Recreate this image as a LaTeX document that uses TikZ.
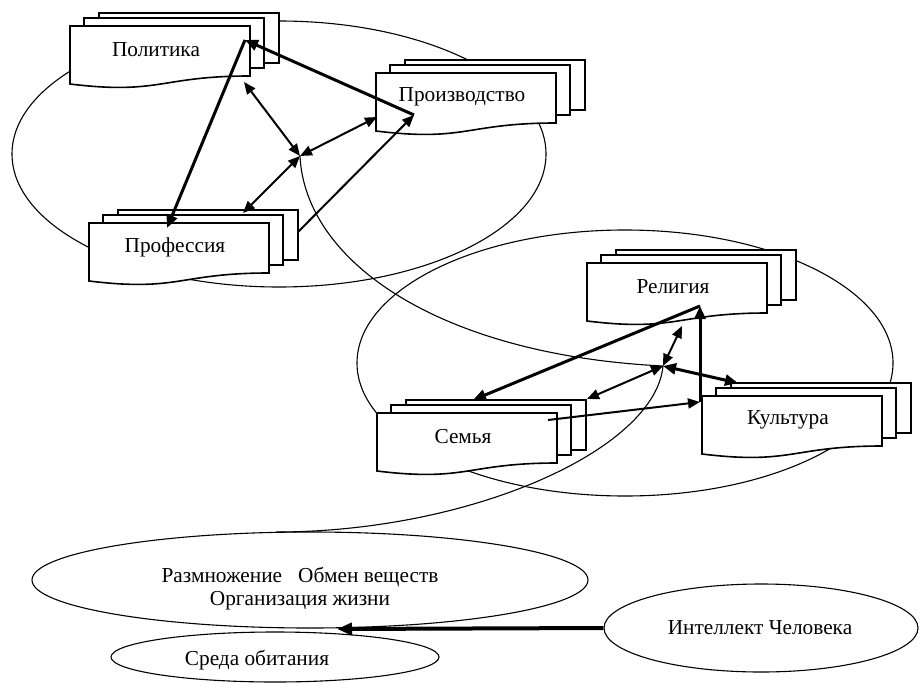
\documentclass[tikz,border=0pt]{standalone}
\usepackage{fontspec}
\setmainfont{Liberation Serif}
\usetikzlibrary{arrows.meta,shapes.geometric}
\tikzset{
  boxline/.style={line width=1.6pt, fill=white, line join=miter},
  lbl/.style={font=\fontsize{21.3}{23}\selectfont, inner sep=0pt},
  thinl/.style={line width=1.1pt},
  oval/.style={ellipse, draw, line width=1.1pt, inner sep=0pt},
  medarr/.style={line width=2pt, -{Triangle[length=12pt,width=10pt]}},
  medarrb/.style={line width=2pt, {Triangle[length=12pt,width=10pt]}-{Triangle[length=12pt,width=10pt]}},
  thickarr/.style={line width=3pt, -{Triangle[length=13pt,width=11pt]}},
  thickarrb/.style={line width=3pt, {Triangle[length=13pt,width=11pt]}-{Triangle[length=13pt,width=11pt]}},
  bigarr/.style={line width=4pt, -{Triangle[length=15pt,width=12pt]}},
}
% name, x (left of front), y (top of front), text
\newcommand{\mdoc}[4]{%
  \draw[boxline] (#2+29,#3-13) rectangle ++(180,50);
  \draw[boxline] (#2+14,#3-8) rectangle ++(180,50);
  \draw[boxline] (#2,#3) -- (#2+180,#3) -- (#2+180,#3+50)
     .. controls (#2+90,#3+50) and (#2+90,#3+69) .. (#2,#3+58) -- cycle;
  \node[lbl] (#1) at (#2+86,#3+24) {#4};
}
\begin{document}
\begin{tikzpicture}[x=1pt,y=-1pt]
\useasboundingbox (0,0) rectangle (920,682);

% big background ellipses
\node[oval, minimum width=534pt, minimum height=266pt] (e1) at (279,154) {};
\node[oval, minimum width=536pt, minimum height=266pt] (e2) at (625,363) {};

% junctions
\coordinate (J1) at (300,156);
\coordinate (J2) at (663,366);

% bottom ellipses
\node[oval, minimum width=556pt, minimum height=96pt] (rep) at (310,580) {};
\node[lbl, align=center] (reptxt) at (300,589) {Размножение\ \ \ Обмен веществ\\Организация жизни};
\node[oval, minimum width=328pt, minimum height=50pt] (sreda) at (275,657) {};
\node[lbl] (sredatxt) at (257,660) {Среда обитания};
\node[oval, minimum width=314pt, minimum height=88pt] (intel) at (761,628) {};
\node[lbl] (inteltxt) at (760,628) {Интеллект Человека};
\coordinate (arrtip) at (337,629);

% connecting curves
\draw[thinl] (J1) .. controls (305,262) and (440,355) .. (J2);
\draw[thinl] (J2) .. controls (655,450) and (470,532) .. (276,532);

% document stacks
\mdoc{pol}{70}{26}{Политика}
\mdoc{proizv}{376}{73}{Производство}
\mdoc{prof}{89}{223}{Профессия}
\mdoc{rel}{587}{263}{Религия}
\mdoc{sem}{377}{413}{Семья}
\mdoc{kult}{702}{396}{Культура}

% anchor points on boxes
\coordinate (polB) at (244,82);
\coordinate (polT) at (245,40);
\coordinate (prL) at (377,117);
\coordinate (prM) at (414,115);
\coordinate (pfT) at (243,213);
\coordinate (pfM) at (167,228);
\coordinate (pfR) at (298,232);

\coordinate (relB) at (682,326);
\coordinate (relM) at (700,306);
\coordinate (semT) at (587,399);
\coordinate (semM) at (473,400);
\coordinate (semR) at (548,420);
\coordinate (kulT) at (738,383);
\coordinate (kulL) at (700,402);

% cluster 1 arrows
\draw[medarrb] (J1) -- (polB);
\draw[medarrb] (J1) -- (prL);
\draw[medarrb] (J1) -- (pfT);
\draw[thickarr] (prM) -- (polT);
\draw[thickarr] (polT) -- (pfM);
\draw[medarr] (pfR) -- (prM);

% cluster 2 arrows
\draw[medarrb] (J2) -- (relB);
\draw[medarrb] (J2) -- (semT);
\draw[thickarrb] (J2) -- (kulT);
\draw[thickarr] (relM) -- (semM);
\draw[thickarr] (kulL) -- (relM);
\draw[medarr] (semR) -- (kulL);

% bottom arrow
\draw[bigarr] (intel.west) -- (arrtip);
\end{tikzpicture}
\end{document}
